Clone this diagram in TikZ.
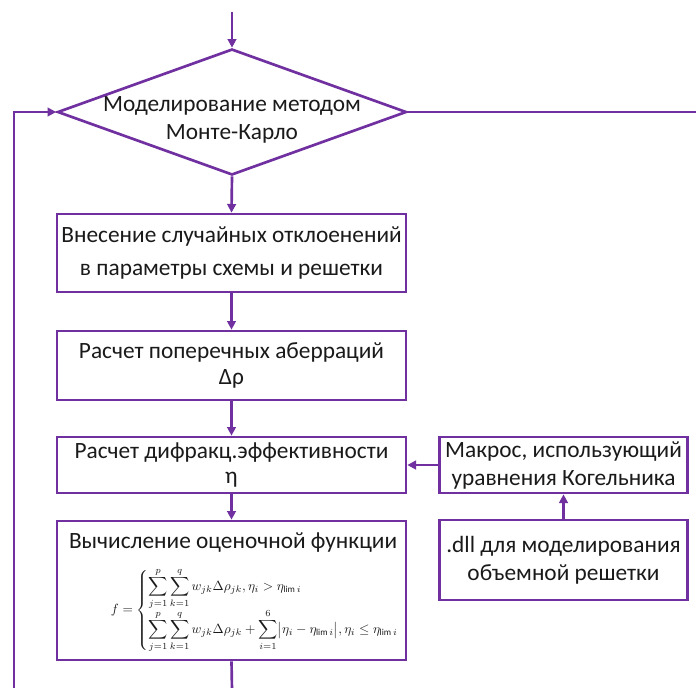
\documentclass[tikz,border=0pt]{standalone}
\usepackage{fontspec}
\setmainfont{Carlito}
\usepackage{amsmath}
\usetikzlibrary{shapes.geometric,arrows.meta}
\definecolor{vio}{HTML}{7030A0}
\definecolor{ink}{HTML}{1A1A1A}
\begin{document}
\begin{tikzpicture}[x=0.75pt,y=-0.75pt,
  line/.style={draw=vio,line width=2pt},
  arr/.style={line,-{Triangle[length=6.5pt,width=6.5pt]}},
  box/.style={draw=vio,line width=2pt,rectangle,inner sep=0pt,align=center,text=ink,font=\fontsize{17.5}{19}\selectfont},
  dia/.style={draw=vio,line width=2pt,diamond,inner sep=0pt,minimum width=261.75pt,minimum height=94.5pt},
  txt/.style={align=center,text=ink,font=\fontsize{17.5}{21}\selectfont,inner sep=0pt}]
\useasboundingbox (0,0) rectangle (696,687);
% diamond
\node[dia] (d) at (232,112) {};
\node[txt] (dt) at (232,120) {Моделирование методом\\Монте-Карло};
% boxes
\node[box,minimum width=261.75pt,minimum height=58.5pt,font=\fontsize{17.5}{24.75}\selectfont] (b1) at (231.5,253) {Внесение случайных отклоенений\\в параметры схемы и решетки};
\node[box,minimum width=261.75pt,minimum height=51.75pt] (b2) at (231.5,365.5) {Расчет поперечных аберраций\\Δρ};
\node[box,minimum width=261.75pt,minimum height=42pt] (b3) at (231.5,465) {Расчет дифракц.эффективности\\η};
\node[box,minimum width=261.75pt,minimum height=104.25pt] (b4) at (231.5,590.5) {};
\node[txt] (b4t) at (233,543) {Вычисление оценочной функции};
\node[inner sep=0pt,text=ink,font=\fontsize{9.8}{11.5}\selectfont] (f) at (255,610)
 {$\displaystyle f=\left\{\begin{array}{@{}l@{}}\displaystyle\sum\limits_{j=1}^{p}\sum\limits_{k=1}^{q}w_{jk}\Delta\rho_{jk},\eta_i>\eta_{\mathrm{lim}\,i}\\[9pt]
 \displaystyle\sum\limits_{j=1}^{p}\sum\limits_{k=1}^{q}w_{jk}\Delta\rho_{jk}+\sum\limits_{i=1}^{6}\bigl|\eta_i-\eta_{\mathrm{lim}\,i}\bigr|,\eta_i\le\eta_{\mathrm{lim}\,i}\end{array}\right.$};
\node[box,minimum width=186pt,minimum height=42pt,font=\fontsize{17.5}{21}\selectfont] (ba) at (563.5,465) {Макрос, использующий\\уравнения Когельника};
\node[box,minimum width=186pt,minimum height=60pt,font=\fontsize{17.5}{21}\selectfont] (bb) at (563.5,560) {.dll для моделирования\\объемной решетки};
% connectors
\coordinate (top) at (232,12);
\coordinate (loop) at (14,690);
\coordinate (rend) at (700,112);
\coordinate (bend) at (232,690);
\draw[arr] (top) -- (d.north);
\draw[arr] (loop) |- (d.west);
\draw[line] (d.east) -- (rend);
\draw[arr] (d.south) -- (b1.north);
\draw[arr] (b1.south) -- (b2.north);
\draw[arr] (b2.south) -- (b3.north);
\draw[arr] (b3.south) -- (b4.north);
\draw[line] (b4.south) -- (bend);
\draw[arr] (ba.west) -- (b3.east);
\draw[arr] (bb.north) -- (ba.south);
\end{tikzpicture}
\end{document}
